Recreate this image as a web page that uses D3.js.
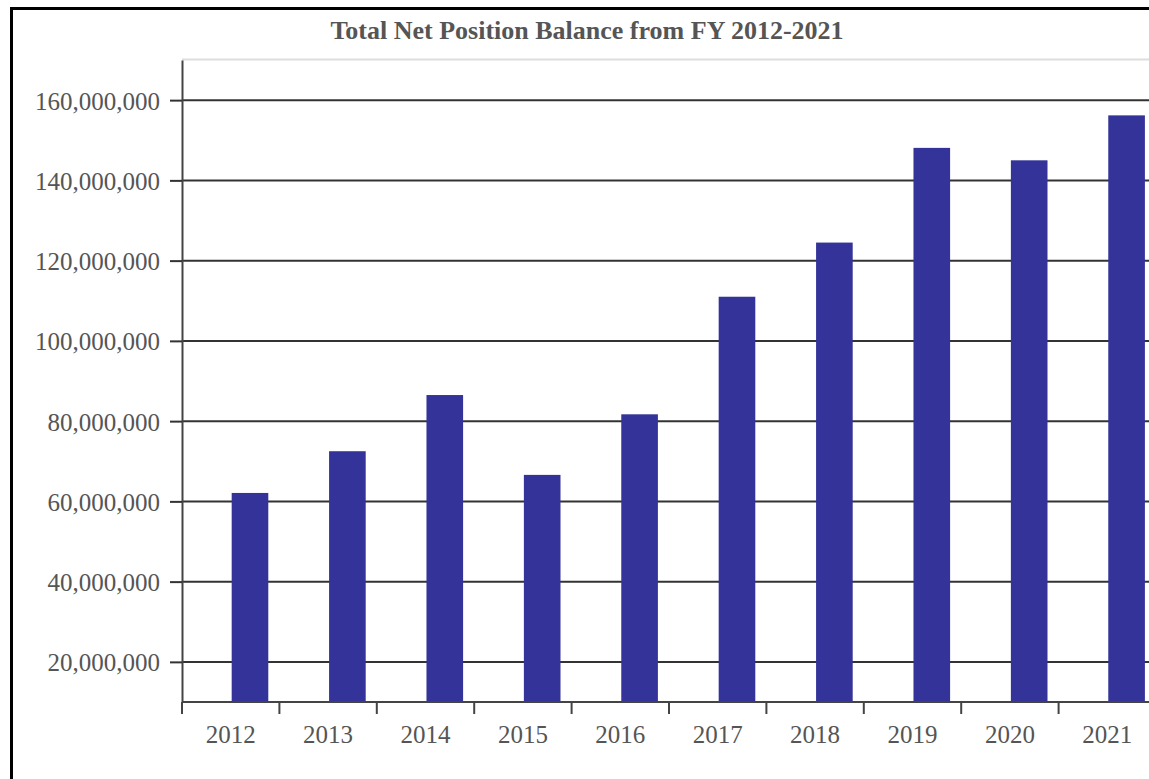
<!DOCTYPE html>
<html>
<head>
<meta charset="utf-8">
<script src="https://cdn.jsdelivr.net/npm/d3@7"></script>
<style>
	body { margin: 0; background: #fff; overflow: hidden; }
	#container { width: 1149px; height: 779px; }
	text { font-family: "Liberation Serif", "Times New Roman", serif; }
</style>
</head>
<body>
<div id="container"></div>
<script>
// chart data
var years = ["2012", "2013", "2014", "2015", "2016", "2017", "2018", "2019", "2020", "2021"];
var balances = [62100000, 72500000, 86500000, 66600000, 81700000, 111000000, 124500000, 148100000, 145000000, 156200000];
var yTicks = [20000000, 40000000, 60000000, 80000000, 100000000, 120000000, 140000000, 160000000];
var yRange = [10000000, 170000000];
var title = "Total Net Position Balance from FY 2012-2021";

// layout
var margin = {top: 60, left: 182},
	width = 974,
	height = 642;

var svg = d3.select("#container").append("svg")
	.attr("width", 1149)
	.attr("height", 779);

// outer frame (runs off the right and bottom edge)
svg.append("rect")
	.attr("x", 11.5)
	.attr("y", 8.5)
	.attr("width", 1200)
	.attr("height", 900)
	.style("fill", "none")
	.style("stroke", "#000")
	.style("stroke-width", 3);

svg.append("text")
	.attr("x", 587)
	.attr("y", 39)
	.style("text-anchor", "middle")
	.style("font-size", "26px")
	.style("font-weight", "bold")
	.style("fill", "#555")
	.text(title);

var g = svg.append("g")
	.attr("transform", "translate(" + margin.left + "," + margin.top + ")");

var x = d3.scaleBand().domain(years).range([0, width]).padding(0);
var y = d3.scaleLinear().domain(yRange).range([height, 0]);

// light line on top of the plot
g.append("line")
	.attr("x1", 0).attr("x2", width)
	.attr("y1", -0.5).attr("y2", -0.5)
	.style("stroke", "#ddd")
	.style("stroke-width", 2);

// gridlines
g.selectAll(".grid")
	.data(yTicks).enter()
	.append("line")
		.attr("class", "grid")
		.attr("x1", 0).attr("x2", width)
		.attr("y1", function(d) { return y(d); })
		.attr("y2", function(d) { return y(d); })
		.style("stroke", "#333")
		.style("stroke-width", 2);

// bars
g.selectAll(".bar")
	.data(balances).enter()
	.append("rect")
		.attr("class", "bar")
		.attr("x", function(d, i) { return x(years[i]) + x.bandwidth() * 0.51; })
		.attr("width", x.bandwidth() * 0.376)
		.attr("y", function(d) { return y(d); })
		.attr("height", function(d) { return height - y(d); })
		.style("fill", "#333399");

// y axis
var yAxis = d3.axisLeft(y)
	.tickValues(yTicks)
	.tickSize(12)
	.tickSizeOuter(0)
	.tickPadding(10)
	.tickFormat(d3.format(","));

var ya = g.append("g").attr("class", "y axis").call(yAxis);
ya.select(".domain").style("stroke", "#444").style("stroke-width", 2);
ya.selectAll(".tick line").style("stroke", "#333").style("stroke-width", 2);
ya.selectAll(".tick text")
	.style("font-size", "25px")
	.style("fill", "#555")
	.attr("dy", "0.36em");

// x axis: line, boundary ticks, centred labels
var xa = g.append("g").attr("class", "x axis")
	.attr("transform", "translate(0," + height + ")");

xa.append("line")
	.attr("x1", 0).attr("x2", width)
	.style("stroke", "#444")
	.style("stroke-width", 2);

xa.selectAll(".xtick")
	.data(years).enter()
	.append("line")
		.attr("class", "xtick")
		.attr("x1", function(d) { return x(d); })
		.attr("x2", function(d) { return x(d); })
		.attr("y1", 0).attr("y2", 12)
		.style("stroke", "#444")
		.style("stroke-width", 2);

xa.selectAll(".xlabel")
	.data(years).enter()
	.append("text")
		.attr("class", "xlabel")
		.attr("x", function(d) { return x(d) + x.bandwidth() / 2; })
		.attr("y", 41)
		.style("text-anchor", "middle")
		.style("font-size", "25px")
		.style("fill", "#555")
		.text(function(d) { return d; });
</script>
</body>
</html>
